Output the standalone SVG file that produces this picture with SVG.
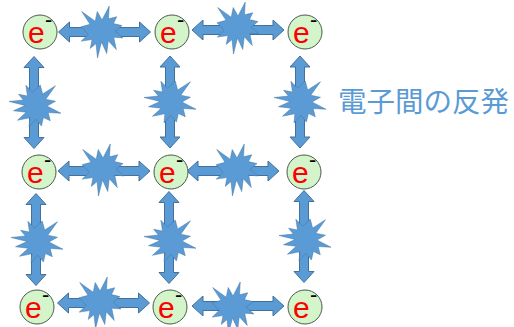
<svg xmlns="http://www.w3.org/2000/svg" xmlns:xlink="http://www.w3.org/1999/xlink" width="514" height="327" viewBox="0 0 514 327">
<style>
.arr{fill:#5b9bd5;stroke:#41719c;stroke-width:1;stroke-linejoin:miter}
.arr path{vector-effect:non-scaling-stroke}
.node circle{fill:#d4f5c9;stroke:#4a5a4a;stroke-width:1}
.e{font-family:"Liberation Sans",Arial,sans-serif;font-size:30px;fill:#ff0000}
.m{font-family:"Liberation Sans",Arial,sans-serif;font-size:22px;fill:#000}
.lbl{font-family:"Noto Sans CJK JP","Noto Sans CJK SC",sans-serif;font-size:28.5px;fill:#5b9bd5}
</style>
<defs>
<path id="ha" d="M-46,0 L-35,-10 L-35,-4.5 L35,-4.5 L35,-10 L46,0 L35,10 L35,4.5 L-35,4.5 L-35,10 Z"/>
<path id="st" d="M0,-23.15 L17.23,-50 L15.53,-25.35 L35.09,-29.37 L27.32,-16.13 L47.67,-12.33 L31.51,-1.5 L50,11.53 L27.95,9.92 L34,33.77 L14.91,16.93 L11.33,41.38 L-1.24,19.14 L-10.72,50 L-14.28,22.35 L-27.95,31.56 L-23.76,14.52 L-49.37,17.53 L-32.77,4.51 L-50,-10.12 L-28.58,-14.74 L-48.29,-39.37 L-16.15,-20.74 L-11.33,-39.37 Z"/>
</defs>
<g id="connectors">
  <g class="arr">
    <use xlink:href="#ha" transform="translate(104.5,32)"/>
    <use xlink:href="#st" transform="translate(102,32) scale(0.42,0.52)"/>
    <use xlink:href="#ha" transform="translate(238,30)"/>
    <use xlink:href="#st" transform="translate(238,28) scale(0.42,0.52)"/>
    <use xlink:href="#ha" transform="translate(104,171)"/>
    <use xlink:href="#st" transform="translate(103,170) scale(0.42,0.52)"/>
    <use xlink:href="#ha" transform="translate(233,171)"/>
    <use xlink:href="#st" transform="translate(237,170) scale(0.42,0.52)"/>
    <use xlink:href="#ha" transform="translate(103.5,303)"/>
    <use xlink:href="#st" transform="translate(100,303) scale(0.42,0.52)"/>
    <use xlink:href="#ha" transform="translate(238,306)"/>
    <use xlink:href="#st" transform="translate(233,308) scale(0.42,0.52)"/>
    <use xlink:href="#ha" transform="translate(34,102.5) rotate(90)"/>
    <use xlink:href="#st" transform="translate(35,106) rotate(90) scale(0.42,0.52)"/>
    <use xlink:href="#ha" transform="translate(170,102) rotate(90)"/>
    <use xlink:href="#st" transform="translate(170,102) rotate(90) scale(0.42,0.52)"/>
    <use xlink:href="#ha" transform="translate(300,102) rotate(90)"/>
    <use xlink:href="#st" transform="translate(300,102) rotate(90) scale(0.42,0.52)"/>
    <use xlink:href="#ha" transform="translate(36,239.5) rotate(90)"/>
    <use xlink:href="#st" transform="translate(37,242) rotate(90) scale(0.42,0.52)"/>
    <use xlink:href="#ha" transform="translate(169,237.5) rotate(90)"/>
    <use xlink:href="#st" transform="translate(170,241) rotate(90) scale(0.42,0.52)"/>
    <use xlink:href="#ha" transform="translate(304,236.5) rotate(90)"/>
    <use xlink:href="#st" transform="translate(305,240) rotate(90) scale(0.42,0.52)"/>
  </g>
</g>
<g id="n11" class="node"><circle cx="40" cy="32" r="17"/><text class="e" x="28" y="43">e</text><text class="m" x="45" y="27">-</text></g>
<g id="n12" class="node"><circle cx="172" cy="32" r="17"/><text class="e" x="160" y="43">e</text><text class="m" x="177" y="27">-</text></g>
<g id="n13" class="node"><circle cx="305" cy="32" r="17"/><text class="e" x="293" y="43">e</text><text class="m" x="310" y="27">-</text></g>
<g id="n21" class="node"><circle cx="39" cy="172" r="17"/><text class="e" x="27" y="183">e</text><text class="m" x="44" y="167">-</text></g>
<g id="n22" class="node"><circle cx="171" cy="172" r="17"/><text class="e" x="159" y="183">e</text><text class="m" x="176" y="167">-</text></g>
<g id="n23" class="node"><circle cx="304" cy="172" r="17"/><text class="e" x="292" y="183">e</text><text class="m" x="309" y="167">-</text></g>
<g id="n31" class="node"><circle cx="37" cy="307" r="17"/><text class="e" x="25" y="318">e</text><text class="m" x="42" y="302">-</text></g>
<g id="n32" class="node"><circle cx="170" cy="307" r="17"/><text class="e" x="158" y="318">e</text><text class="m" x="175" y="302">-</text></g>
<g id="n33" class="node"><circle cx="305" cy="307" r="17"/><text class="e" x="293" y="318">e</text><text class="m" x="310" y="302">-</text></g>
<g id="label"><text class="lbl" x="338" y="112">電子間の反発</text></g>
</svg>
